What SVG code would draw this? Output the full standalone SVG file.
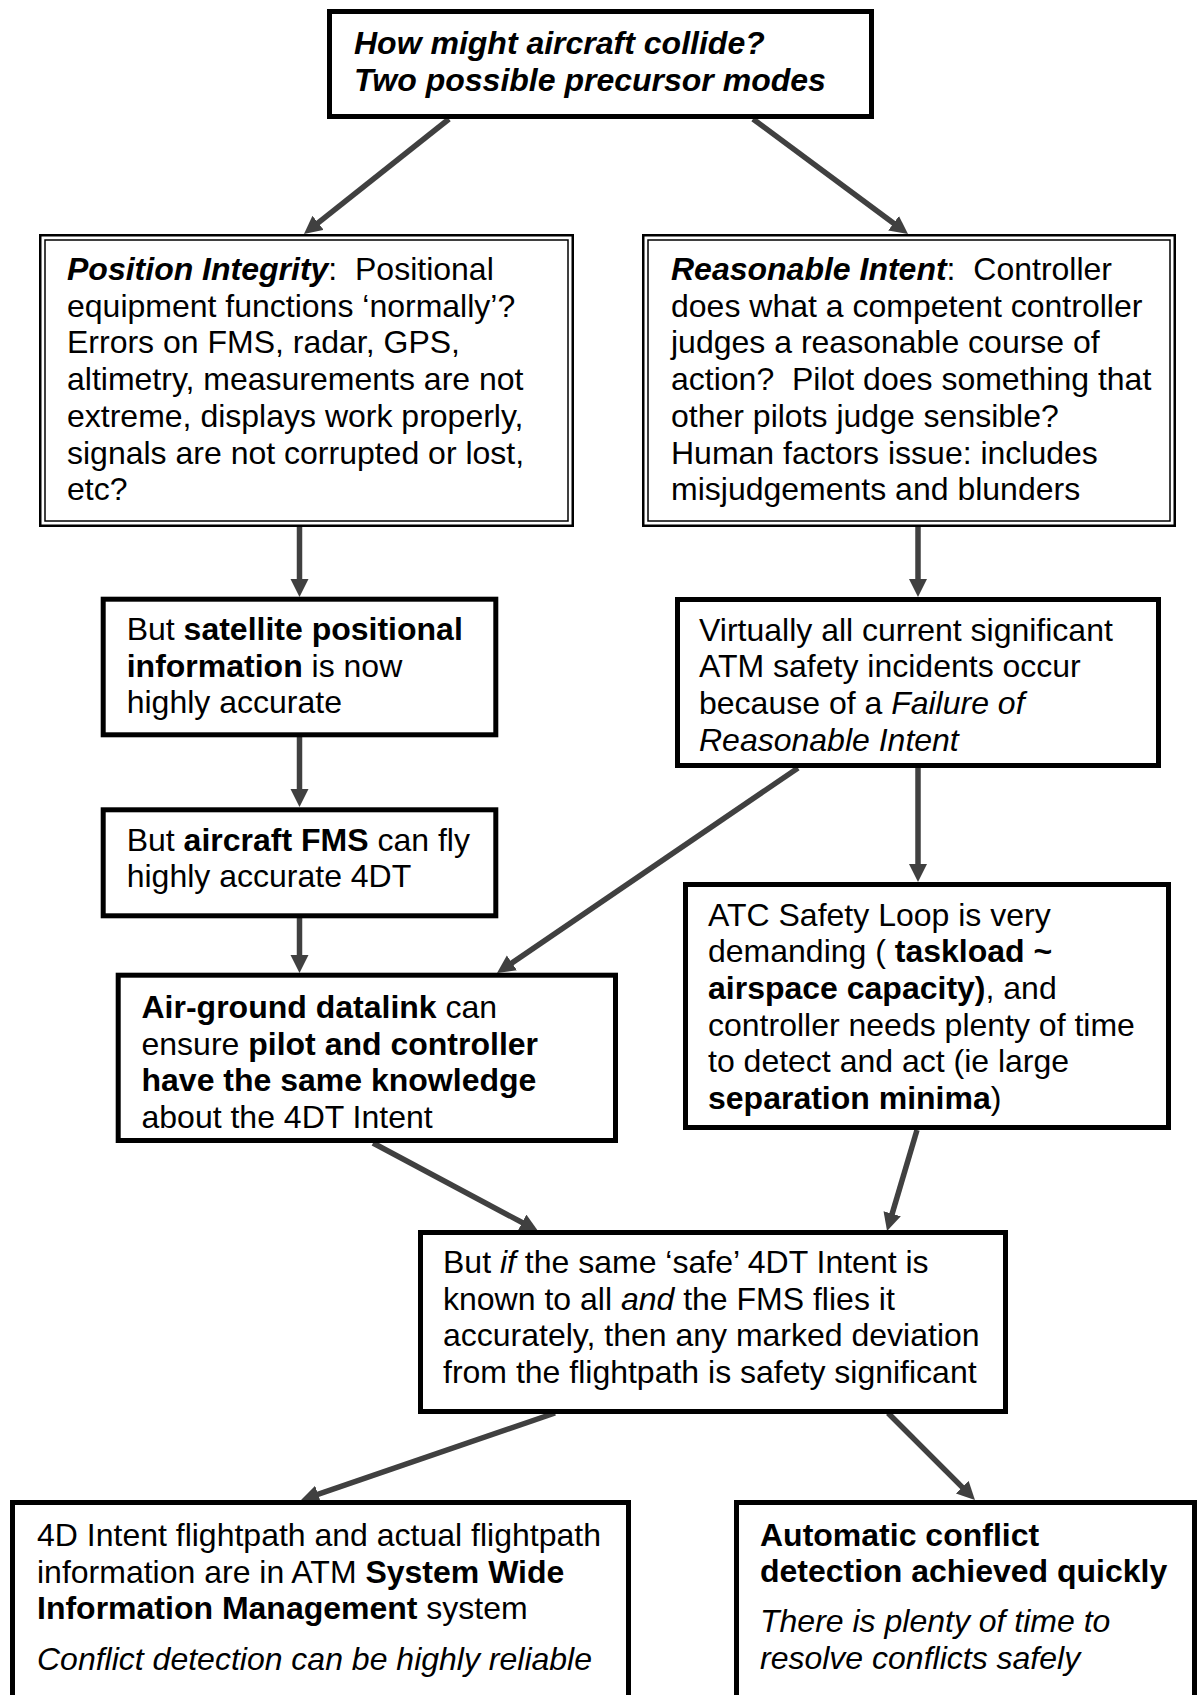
<svg xmlns="http://www.w3.org/2000/svg" width="1200" height="1695" viewBox="0 0 1200 1695">
<style>
text{font-family:"Liberation Sans",Arial,Helvetica,sans-serif;font-size:32px;fill:#000}
.b{font-weight:bold}
.i{font-style:italic}
.bi{font-weight:bold;font-style:italic}
.box{fill:#fff;stroke:#000;stroke-width:5}
.dbo{fill:#fff;stroke:#000;stroke-width:2.5}
.dbi{fill:none;stroke:#000;stroke-width:1.5}
.conn{stroke:#404040;stroke-width:5.5;fill:none;marker-end:url(#ah)}
</style>
<defs>
<marker id="ah" markerUnits="userSpaceOnUse" markerWidth="20" markerHeight="20" refX="8" refY="9" orient="auto" viewBox="0 0 20 20">
<path d="M0,0 L18,9 L0,18 Z" fill="#404040"/>
</marker>
</defs>
<rect width="1200" height="1695" fill="#fff"/>

<g id="connectors">
<line class="conn" x1="449" y1="119" x2="311.8" y2="227.8"/>
<line class="conn" x1="753" y1="119" x2="900" y2="228"/>
<line class="conn" x1="299.5" y1="527" x2="299.5" y2="587"/>
<line class="conn" x1="299.5" y1="737" x2="299.5" y2="797"/>
<line class="conn" x1="299.5" y1="918" x2="299.5" y2="963"/>
<line class="conn" x1="918" y1="527" x2="918" y2="587"/>
<line class="conn" x1="918" y1="768" x2="918" y2="872"/>
<line class="conn" x1="798" y1="768" x2="505.3" y2="967.4"/>
<line class="conn" x1="373" y1="1143" x2="529.2" y2="1226.3"/>
<line class="conn" x1="917" y1="1130" x2="889.9" y2="1221.4"/>
<line class="conn" x1="555" y1="1413" x2="310.5" y2="1496.8"/>
<line class="conn" x1="888" y1="1413" x2="967.9" y2="1492.9"/>
</g>

<g id="n-top">
<rect class="box" x="329.5" y="11.5" width="542" height="105"/>
<text class="bi" x="354" y="53.5">How might aircraft collide?</text>
<text class="bi" x="354" y="90.5">Two possible precursor modes</text>
</g>

<g id="n-position-integrity">
<rect class="dbo" x="40.25" y="235.25" width="532.5" height="290.5"/>
<rect class="dbi" x="45" y="240" width="523" height="281"/>
<text x="67" y="280" xml:space="preserve"><tspan class="bi">Position Integrity</tspan>:  Positional</text>
<text x="67" y="316.7">equipment functions ‘normally’?</text>
<text x="67" y="353.4">Errors on FMS, radar, GPS,</text>
<text x="67" y="390.1">altimetry, measurements are not</text>
<text x="67" y="426.8">extreme, displays work properly,</text>
<text x="67" y="463.5">signals are not corrupted or lost,</text>
<text x="67" y="500.2">etc?</text>
</g>

<g id="n-reasonable-intent">
<rect class="dbo" x="643.25" y="235.25" width="531.5" height="290.5"/>
<rect class="dbi" x="648" y="240" width="522" height="281"/>
<text x="671" y="280" xml:space="preserve"><tspan class="bi">Reasonable Intent</tspan>:  Controller</text>
<text x="671" y="316.7">does what a competent controller</text>
<text x="671" y="353.4">judges a reasonable course of</text>
<text x="671" y="390.1" xml:space="preserve">action?  Pilot does something that</text>
<text x="671" y="426.8">other pilots judge sensible?</text>
<text x="671" y="463.5">Human factors issue: includes</text>
<text x="671" y="500.2">misjudgements and blunders</text>
</g>

<g id="n-satellite">
<rect class="box" x="103.2" y="599.2" width="392.6" height="135.6"/>
<text x="126.7" y="640" xml:space="preserve">But <tspan class="b">satellite positional</tspan></text>
<text x="126.7" y="676.7" xml:space="preserve"><tspan class="b">information</tspan> is now</text>
<text x="126.7" y="713.4">highly accurate</text>
</g>

<g id="n-fms">
<rect class="box" x="103.2" y="809.8" width="392.6" height="106"/>
<text x="126.7" y="850.7" xml:space="preserve">But <tspan class="b">aircraft FMS</tspan> can fly</text>
<text x="126.7" y="887.4">highly accurate 4DT</text>
</g>

<g id="n-virtually">
<rect class="box" x="677.5" y="599.5" width="481" height="166"/>
<text x="699" y="640.5">Virtually all current significant</text>
<text x="699" y="677.2">ATM safety incidents occur</text>
<text x="699" y="713.9" xml:space="preserve">because of a <tspan class="i">Failure of</tspan></text>
<text x="699" y="750.6" class="i">Reasonable Intent</text>
</g>

<g id="n-atc">
<rect class="box" x="685.5" y="884.5" width="483" height="243"/>
<text x="708" y="925.5">ATC Safety Loop is very</text>
<text x="708" y="962.2" xml:space="preserve">demanding ( <tspan class="b">taskload ~</tspan></text>
<text x="708" y="998.9" xml:space="preserve"><tspan class="b">airspace capacity)</tspan>, and</text>
<text x="708" y="1035.6">controller needs plenty of time</text>
<text x="708" y="1072.3">to detect and act (ie large</text>
<text x="708" y="1109" xml:space="preserve"><tspan class="b">separation minima</tspan>)</text>
</g>

<g id="n-datalink">
<rect class="box" x="118.2" y="975.2" width="497.3" height="165.3"/>
<text x="141.5" y="1018" xml:space="preserve"><tspan class="b">Air-ground datalink</tspan> can</text>
<text x="141.5" y="1054.7" xml:space="preserve">ensure <tspan class="b">pilot and controller</tspan></text>
<text x="141.5" y="1091.4" class="b">have the same knowledge</text>
<text x="141.5" y="1128.1">about the 4DT Intent</text>
</g>

<g id="n-but-if">
<rect class="box" x="420.5" y="1232.5" width="585" height="179"/>
<text x="443" y="1273" xml:space="preserve">But <tspan class="i">if</tspan> the same ‘safe’ 4DT Intent is</text>
<text x="443" y="1309.7" xml:space="preserve">known to all <tspan class="i">and</tspan> the FMS flies it</text>
<text x="443" y="1346.4">accurately, then any marked deviation</text>
<text x="443" y="1383.1">from the flightpath is safety significant</text>
</g>

<g id="n-swim">
<rect class="box" x="12.5" y="1502.5" width="616" height="220"/>
<text x="37" y="1546">4D Intent flightpath and actual flightpath</text>
<text x="37" y="1582.7" xml:space="preserve">information are in ATM <tspan class="b">System Wide</tspan></text>
<text x="37" y="1619.4" xml:space="preserve"><tspan class="b">Information Management</tspan> system</text>
<text x="37" y="1670" class="i">Conflict detection can be highly reliable</text>
</g>

<g id="n-automatic">
<rect class="box" x="736.5" y="1502.5" width="458" height="220"/>
<text x="760" y="1545.5" class="b">Automatic conflict</text>
<text x="760" y="1582.2" class="b">detection achieved quickly</text>
<text x="760" y="1632" class="i">There is plenty of time to</text>
<text x="760" y="1668.7" class="i">resolve conflicts safely</text>
</g>
</svg>
